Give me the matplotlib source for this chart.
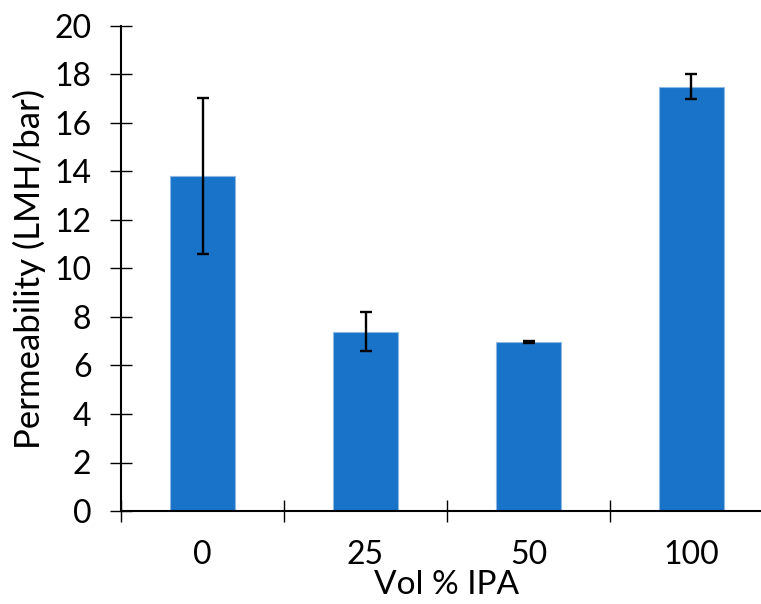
import numpy as np
import matplotlib.pyplot as plt
from matplotlib.ticker import FixedLocator

plt.rcParams['font.family'] = ['Lato', 'DejaVu Sans']

# permeability vs IPA content
ipa_vol = ['0', '25', '50', '100']
permeability = [13.8, 7.4, 6.97, 17.5]
perm_err = [3.22, 0.8, 0.04, 0.52]

bar_color = '#1973c8'
pos = np.arange(len(ipa_vol))

fig = plt.figure(figsize=(7.61, 6.04), dpi=100)
ax = fig.add_axes([121 / 761, 93 / 604, 652 / 761, 485 / 604])

ax.bar(pos, permeability, width=0.4, color=bar_color, edgecolor='#8db8e2', linewidth=0.8, zorder=2)
ax.errorbar(pos, permeability, yerr=perm_err, fmt='none', ecolor='black',
            elinewidth=1.7, capsize=4, capthick=1.7, zorder=3)

ax.set_xlim(-0.5, 3.5)
ax.set_ylim(0, 20)
ax.set_yticks(np.arange(0, 21, 2))

# category labels centred, tick marks between categories
ax.set_xticks(pos)
ax.set_xticklabels(ipa_vol)
ax.xaxis.set_minor_locator(FixedLocator([-0.5, 0.5, 1.5, 2.5]))
ax.tick_params(axis='x', which='major', length=0, pad=21, labelsize=23)
ax.tick_params(axis='x', which='minor', direction='inout', length=16.5, width=1)
ax.tick_params(axis='y', direction='inout', length=16.5, width=1, pad=13, labelsize=23)

for s in ['top', 'right']:
    ax.spines[s].set_visible(False)
for s in ['left', 'bottom']:
    ax.spines[s].set_linewidth(1.5)

ax.set_xlabel('Vol % IPA', fontsize=24, labelpad=0)
ax.set_ylabel('Permeability (LMH/bar)', fontsize=25, labelpad=6)

fig.savefig('out.png', dpi=100)
